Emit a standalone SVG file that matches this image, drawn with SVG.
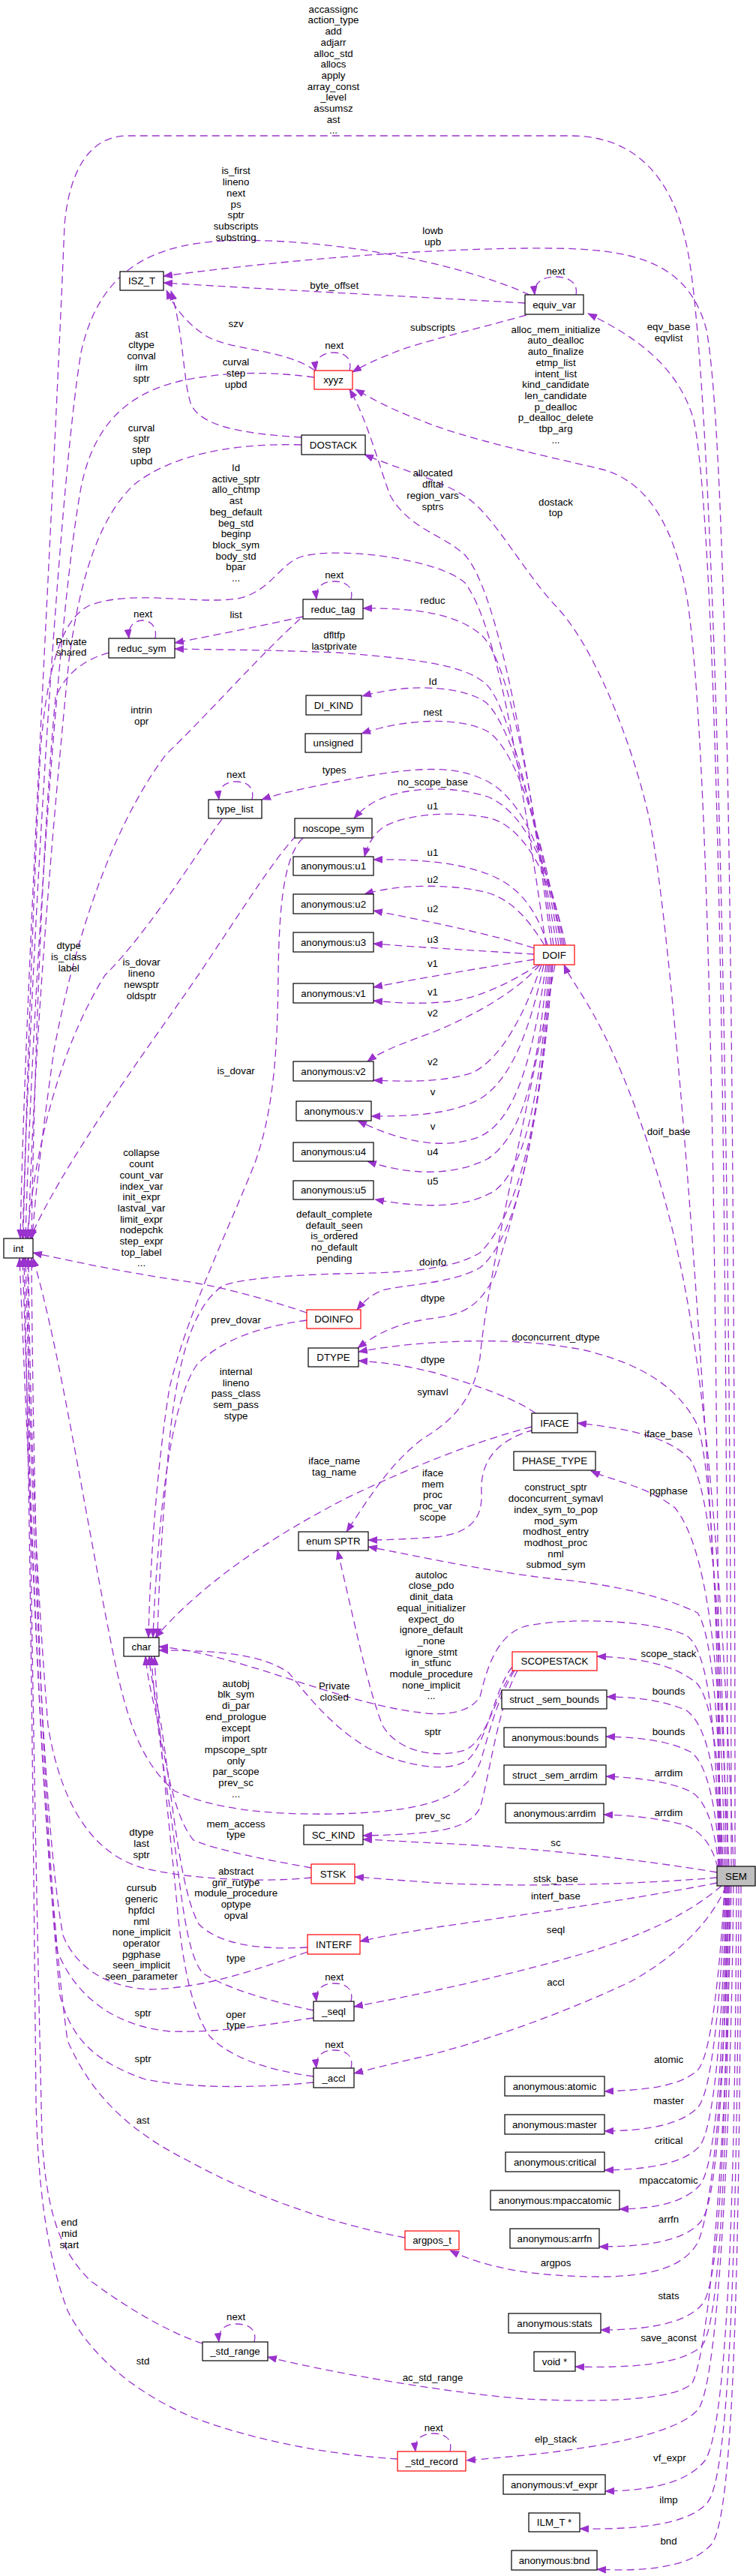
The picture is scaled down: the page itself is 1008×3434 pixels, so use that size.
<svg xmlns="http://www.w3.org/2000/svg" width="1008" height="3434" viewBox="0 0 1008 3434">
<style>
text{font-family:"Liberation Sans",Arial,sans-serif;font-size:13.3px;fill:#000;text-anchor:middle}
.n rect{fill:#fff;stroke:#000;stroke-width:1.2}
.r rect{stroke:#ff0000}
.g rect{fill:#bfbfbf}
.e path{fill:none;stroke:#9a32cd;stroke-width:1.3;stroke-dasharray:10,6;marker-end:url(#a)}
</style>
<defs>
<marker id="a" markerUnits="userSpaceOnUse" markerWidth="13" markerHeight="10" refX="12" refY="5" orient="auto" viewBox="0 0 13 10"><path d="M0,0 L13,5 L0,10 z" fill="#9a32cd" stroke="none"/></marker>
</defs>
<rect width="1008" height="3434" fill="#fff"/>
<g id="edges" class="e">
<path d="M 975,2488 C 975,1400 950,520 918,340 C 900,240 850,181 760,181 L 170,181 C 118,181 92,230 86,300 C 70,700 34,1300 27,1651"/>
<path d="M 980,2488 C 980,1500 972,600 942,440 C 915,335 820,330 700,331 C 520,333 340,352 218,368"/>
<path d="M 706,393 C 600,345 420,316 300,321 C 180,326 128,380 108,470 C 78,650 40,1300 30,1651"/>
<path d="M 700,404 C 580,397 380,387 218,377"/>
<path d="M 768,393 C 771,377 758,369 741,369 C 723,369 711,377 713,393"/>
<path d="M 970,2488 C 970,1500 955,700 925,560 C 905,490 850,450 784,418"/>
<path d="M 702,420 C 630,440 560,456 525,470 C 500,480 485,487 470,496"/>
<path d="M 420,494 C 380,465 310,468 275,448 C 250,432 232,410 222,387"/>
<path d="M 466,494 C 470,478 460,470 445,470 C 430,470 419,478 421,494"/>
<path d="M 419,503 C 360,495 300,495 240,508 C 170,525 125,565 108,650 C 80,800 44,1300 34,1651"/>
<path d="M 402,583 C 320,578 270,568 255,540 C 244,510 246,450 228,388"/>
<path d="M 402,593 C 300,590 225,610 180,645 C 130,690 105,780 92,880 C 70,1100 45,1400 38,1651"/>
<path d="M 735,1260 C 705,1020 665,790 620,740 C 590,712 545,705 520,660 C 505,620 490,560 466,519"/>
<path d="M 972,2488 C 935,1700 890,1200 865,1088 C 840,980 790,860 743,810 C 700,765 660,690 625,665 C 590,640 530,625 486,606"/>
<path d="M 960,2488 C 955,1600 945,1000 917,803 C 900,700 862,640 800,625 C 720,606 620,585 560,560 C 520,545 497,532 474,519"/>
<path d="M 728,1260 C 690,1000 660,830 620,777 C 585,745 450,728 402,742 C 372,752 360,790 316,798 C 260,806 180,786 122,806 C 80,822 62,900 54,1000 C 44,1200 34,1500 31,1651"/>
<path d="M 468,799 C 472,783 462,775 445,775 C 430,775 420,783 422,799"/>
<path d="M 738,1260 C 702,1000 672,870 640,845 C 610,820 560,810 484,811"/>
<path d="M 404,822 C 350,834 290,846 233,857"/>
<path d="M 207,851 C 210,835 200,827 190,827 C 179,827 170,835 172,851"/>
<path d="M 742,1260 C 708,1050 672,930 646,910 C 620,890 580,880 450,870 C 350,866 280,866 233,865"/>
<path d="M 145,870 C 110,880 86,900 74,930 C 58,1100 46,1400 42,1651"/>
<path d="M 400,825 C 340,880 270,960 222,1005 C 150,1100 100,1250 72,1400 C 58,1500 48,1580 43,1651"/>
<path d="M 745,1260 C 720,1100 680,960 646,935 C 620,918 555,908 483,928"/>
<path d="M 748,1260 C 725,1120 690,1000 650,975 C 612,955 540,958 482,978"/>
<path d="M 750,1260 C 730,1150 700,1060 640,1037 C 600,1020 550,1022 450,1042 C 400,1052 372,1058 349,1066"/>
<path d="M 336,1066 C 340,1050 330,1042 315,1042 C 300,1042 290,1050 292,1066"/>
<path d="M 752,1260 C 735,1160 700,1082 650,1062 C 600,1046 540,1050 505,1066 C 490,1073 480,1082 472,1091"/>
<path d="M 754,1260 C 738,1180 702,1100 650,1090 C 600,1080 540,1086 512,1102 C 498,1112 490,1126 486,1142"/>
<path d="M 730,1260 C 715,1210 690,1180 650,1165 C 610,1150 560,1145 498,1146"/>
<path d="M 726,1260 C 702,1222 682,1200 650,1190 C 612,1180 540,1176 486,1192"/>
<path d="M 712,1264 C 660,1246 560,1226 498,1214"/>
<path d="M 712,1272 C 650,1268 560,1263 498,1258"/>
<path d="M 712,1279 C 650,1289 560,1304 498,1316"/>
<path d="M 718,1286 C 680,1310 640,1330 600,1335 C 560,1339 530,1337 498,1334"/>
<path d="M 720,1286 C 690,1320 640,1350 580,1375 C 540,1390 510,1400 490,1415"/>
<path d="M 722,1286 C 700,1350 670,1410 630,1430 C 590,1443 540,1442 498,1440"/>
<path d="M 725,1286 C 705,1380 680,1440 640,1465 C 600,1486 550,1488 495,1488"/>
<path d="M 728,1286 C 712,1400 690,1492 640,1515 C 590,1535 530,1520 477,1494"/>
<path d="M 730,1286 C 718,1420 700,1512 650,1545 C 600,1570 540,1565 490,1548"/>
<path d="M 732,1286 C 722,1440 705,1552 660,1587 C 620,1612 560,1610 500,1599"/>
<path d="M 734,1286 C 720,1500 690,1650 640,1690 C 600,1712 540,1712 510,1720 C 495,1726 485,1735 476,1746"/>
<path d="M 736,1286 C 722,1500 690,1600 660,1700 C 640,1740 620,1752 580,1757 C 540,1762 510,1772 477,1797"/>
<path d="M 714,1884 C 690,1866 640,1848 580,1830 C 540,1820 510,1816 478,1814"/>
<path d="M 958,2488 C 960,2200 950,1960 930,1900 C 900,1840 840,1815 780,1800 C 700,1784 620,1786 550,1792 C 520,1795 500,1798 478,1802"/>
<path d="M 740,1286 C 700,1500 650,1700 640,1810 C 632,1860 610,1890 565,1917 C 520,1950 490,2000 462,2042"/>
<path d="M 712,1906 C 660,1920 640,1950 642,1990 C 644,2030 620,2045 580,2049 C 540,2052 510,2053 491,2053"/>
<path d="M 962,2488 C 960,2300 950,2180 930,2150 C 880,2125 800,2110 740,2105 C 650,2095 560,2075 491,2062"/>
<path d="M 709,1902 C 640,1920 560,1950 460,1998 C 360,2050 270,2110 207,2183"/>
<path d="M 409,1760 C 350,1768 295,1785 262,1820 C 235,1860 222,1950 214,2030 C 208,2100 205,2150 204,2183"/>
<path d="M 409,1750 C 350,1730 290,1714 240,1707 C 160,1695 90,1680 44,1670"/>
<path d="M 737,1286 C 720,1500 690,1620 640,1670 C 600,1695 520,1697 452,1698 C 380,1700 320,1705 297,1714 C 260,1740 240,1800 228,1900 C 218,2000 212,2100 210,2183"/>
<path d="M 395,1114 C 360,1150 300,1250 240,1335 C 180,1420 80,1560 40,1651"/>
<path d="M 296,1092 C 260,1140 200,1240 140,1300 C 90,1380 50,1500 36,1651"/>
<path d="M 404,1117 C 380,1140 372,1200 371,1300 C 370,1400 365,1480 340,1550 C 300,1650 250,1750 226,1850 C 210,1950 200,2080 198,2183"/>
<path d="M 966,2488 C 962,2200 940,2060 900,2010 C 860,1980 820,1975 788,1961"/>
<path d="M 968,2488 C 966,2200 950,1990 920,1945 C 890,1915 840,1905 770,1897"/>
<path d="M 978,2488 C 960,2000 930,1800 910,1700 C 880,1550 830,1420 790,1350 C 770,1315 758,1300 752,1286"/>
<path d="M 959,2488 C 955,2300 945,2200 915,2180 C 870,2160 760,2155 700,2168 C 660,2180 648,2230 640,2262 C 625,2285 590,2287 560,2283 C 450,2270 320,2205 212,2195"/>
<path d="M 683,2222 C 660,2250 650,2320 625,2345 C 600,2365 540,2355 490,2330 C 440,2300 410,2260 385,2230 C 350,2205 290,2200 212,2200"/>
<path d="M 685,2226 C 660,2260 650,2320 620,2333 C 580,2345 530,2335 510,2300 C 490,2250 470,2150 450,2067"/>
<path d="M 690,2227 C 665,2270 650,2380 640,2410 C 625,2440 580,2445 484,2447"/>
<path d="M 686,2227 C 660,2270 650,2320 640,2350 C 620,2400 560,2415 450,2418 C 350,2420 280,2410 232,2387 C 190,2350 170,2300 150,2200 C 110,2000 80,1800 44,1677"/>
<path d="M 964,2488 C 960,2350 950,2270 930,2245 C 900,2218 850,2210 796,2208"/>
<path d="M 962,2488 C 958,2380 945,2300 915,2280 C 880,2265 840,2262 809,2262"/>
<path d="M 960,2488 C 956,2420 945,2350 920,2335 C 890,2320 850,2316 808,2315"/>
<path d="M 958,2488 C 955,2450 945,2400 920,2388 C 890,2374 850,2370 808,2368"/>
<path d="M 957,2490 C 950,2460 935,2440 910,2432 C 880,2424 840,2420 805,2419"/>
<path d="M 956,2496 C 850,2478 700,2462 580,2457 C 540,2455 510,2453 484,2452"/>
<path d="M 956,2503 C 850,2512 700,2516 580,2510 C 540,2507 500,2504 473,2502"/>
<path d="M 956,2510 C 840,2533 700,2552 590,2568 C 540,2576 505,2582 480,2588"/>
<path d="M 962,2514 C 920,2550 860,2580 775,2605 C 690,2630 580,2655 472,2675"/>
<path d="M 968,2514 C 950,2560 900,2610 840,2642 C 760,2680 640,2725 549,2745 C 520,2752 495,2758 472,2764"/>
<path d="M 415,2490 C 360,2480 290,2467 258,2453 C 230,2420 220,2340 207,2280 C 200,2250 196,2230 194,2208"/>
<path d="M 415,2503 C 350,2510 250,2505 190,2490 C 120,2470 80,2400 64,2300 C 48,2100 40,1900 38,1677"/>
<path d="M 410,2596 C 340,2600 290,2590 265,2565 C 240,2520 230,2400 215,2300 C 205,2250 200,2230 199,2208"/>
<path d="M 410,2602 C 330,2630 270,2650 200,2652 C 140,2650 100,2620 84,2580 C 60,2450 45,2100 34,1677"/>
<path d="M 468,2668 C 472,2652 462,2644 445,2644 C 430,2644 420,2652 422,2668"/>
<path d="M 418,2680 C 360,2668 300,2650 270,2630 C 245,2600 240,2500 225,2400 C 212,2320 204,2250 202,2208"/>
<path d="M 418,2690 C 350,2700 290,2710 226,2708 C 150,2700 100,2660 76,2600 C 55,2400 44,2100 30,1677"/>
<path d="M 468,2757 C 472,2741 462,2733 445,2733 C 430,2733 420,2741 422,2757"/>
<path d="M 418,2768 C 360,2760 310,2745 280,2715 C 255,2680 245,2620 238,2560 C 225,2420 210,2300 206,2208"/>
<path d="M 418,2776 C 350,2783 260,2785 194,2772 C 130,2750 95,2720 80,2660 C 56,2400 44,2100 26,1677"/>
<path d="M 540,2983 C 450,2966 340,2930 250,2880 C 170,2840 120,2790 90,2720 C 60,2500 45,2100 42,1677"/>
<path d="M 270,3124 C 220,3108 160,3070 120,3040 C 80,3000 62,2950 56,2850 C 48,2500 40,2100 37,1677"/>
<path d="M 339,3122 C 343,3106 333,3098 315,3098 C 300,3098 290,3106 292,3122"/>
<path d="M 530,3278 C 450,3273 350,3257 258,3223 C 180,3190 120,3140 90,3080 C 60,3000 50,2900 48,2800 C 44,2400 40,2000 32,1677"/>
<path d="M 600,3268 C 604,3252 594,3244 578,3244 C 562,3244 552,3252 554,3268"/>
<path d="M 975,2514 C 970,2800 950,3120 923,3177 C 900,3200 800,3203 700,3198 C 600,3190 450,3165 357,3142"/>
<path d="M 978,2514 C 975,2800 960,3180 930,3213 C 900,3245 800,3262 710,3272 C 670,3276 645,3278 622,3280"/>
<path d="M 972,2514 C 968,2750 950,2950 930,2990 C 910,3025 860,3035 800,3035 C 720,3035 650,3025 600,3000"/>
<path d="M 966,2514 C 962,2600 950,2740 930,2760 C 905,2782 860,2786 806,2788"/>
<path d="M 967,2514 C 962,2650 950,2790 930,2810 C 905,2834 860,2840 806,2841"/>
<path d="M 968,2514 C 964,2700 952,2840 932,2862 C 908,2886 860,2892 806,2893"/>
<path d="M 969,2514 C 965,2750 953,2890 933,2913 C 910,2938 870,2944 826,2945"/>
<path d="M 970,2514 C 966,2800 954,2940 934,2962 C 912,2988 860,2995 799,2995"/>
<path d="M 971,2514 C 968,2900 956,3050 936,3072 C 914,3098 860,3106 801,3106"/>
<path d="M 973,2514 C 970,2900 958,3100 936,3127 C 910,3152 840,3157 767,3155"/>
<path d="M 982,2514 C 980,3000 966,3240 940,3280 C 915,3312 860,3320 807,3321"/>
<path d="M 985,2514 C 983,3050 970,3300 944,3335 C 918,3368 840,3372 773,3371"/>
<path d="M 988,2514 C 986,3100 975,3350 950,3390 C 922,3425 850,3428 796,3425"/>
</g>
<g id="edge-labels">
<text x="444.5" y="16.7"><tspan x="444.5">accassignc</tspan><tspan x="444.5" dy="14.7">action_type</tspan><tspan x="444.5" dy="14.7">add</tspan><tspan x="444.5" dy="14.7">adjarr</tspan><tspan x="444.5" dy="14.7">alloc_std</tspan><tspan x="444.5" dy="14.7">allocs</tspan><tspan x="444.5" dy="14.7">apply</tspan><tspan x="444.5" dy="14.7">array_const</tspan><tspan x="444.5" dy="14.7">_level</tspan><tspan x="444.5" dy="14.7">assumsz</tspan><tspan x="444.5" dy="14.7">ast</tspan><tspan x="444.5" dy="14.7">...</tspan></text>
<text x="314.6" y="232.4"><tspan x="314.6">is_first</tspan><tspan x="314.6" dy="14.7">lineno</tspan><tspan x="314.6" dy="14.7">next</tspan><tspan x="314.6" dy="14.7">ps</tspan><tspan x="314.6" dy="14.7">sptr</tspan><tspan x="314.6" dy="14.7">subscripts</tspan><tspan x="314.6" dy="14.7">substring</tspan></text>
<text x="577" y="312.4"><tspan x="577">lowb</tspan><tspan x="577" dy="14.7">upb</tspan></text>
<text x="741" y="365.7">next</text>
<text x="445.7" y="384.7">byte_offset</text>
<text x="314.6" y="436.4">szv</text>
<text x="577" y="441.4">subscripts</text>
<text x="741" y="443.7"><tspan x="741">alloc_mem_initialize</tspan><tspan x="741" dy="14.7">auto_dealloc</tspan><tspan x="741" dy="14.7">auto_finalize</tspan><tspan x="741" dy="14.7">etmp_list</tspan><tspan x="741" dy="14.7">intent_list</tspan><tspan x="741" dy="14.7">kind_candidate</tspan><tspan x="741" dy="14.7">len_candidate</tspan><tspan x="741" dy="14.7">p_dealloc</tspan><tspan x="741" dy="14.7">p_dealloc_delete</tspan><tspan x="741" dy="14.7">tbp_arg</tspan><tspan x="741" dy="14.7">...</tspan></text>
<text x="891.5" y="440.4"><tspan x="891.5">eqv_base</tspan><tspan x="891.5" dy="14.7">eqvlist</tspan></text>
<text x="188.6" y="449.7"><tspan x="188.6">ast</tspan><tspan x="188.6" dy="14.7">cltype</tspan><tspan x="188.6" dy="14.7">conval</tspan><tspan x="188.6" dy="14.7">ilm</tspan><tspan x="188.6" dy="14.7">sptr</tspan></text>
<text x="445.7" y="465.4">next</text>
<text x="314.6" y="487.4"><tspan x="314.6">curval</tspan><tspan x="314.6" dy="14.7">step</tspan><tspan x="314.6" dy="14.7">upbd</tspan></text>
<text x="188.6" y="574.7"><tspan x="188.6">curval</tspan><tspan x="188.6" dy="14.7">sptr</tspan><tspan x="188.6" dy="14.7">step</tspan><tspan x="188.6" dy="14.7">upbd</tspan></text>
<text x="314.6" y="628"><tspan x="314.6">Id</tspan><tspan x="314.6" dy="14.7">active_sptr</tspan><tspan x="314.6" dy="14.7">allo_chtmp</tspan><tspan x="314.6" dy="14.7">ast</tspan><tspan x="314.6" dy="14.7">beg_default</tspan><tspan x="314.6" dy="14.7">beg_std</tspan><tspan x="314.6" dy="14.7">beginp</tspan><tspan x="314.6" dy="14.7">block_sym</tspan><tspan x="314.6" dy="14.7">body_std</tspan><tspan x="314.6" dy="14.7">bpar</tspan><tspan x="314.6" dy="14.7">...</tspan></text>
<text x="577" y="635.4"><tspan x="577">allocated</tspan><tspan x="577" dy="14.7">dfltal</tspan><tspan x="577" dy="14.7">region_vars</tspan><tspan x="577" dy="14.7">sptrs</tspan></text>
<text x="741" y="673.7"><tspan x="741">dostack</tspan><tspan x="741" dy="14.7">top</tspan></text>
<text x="445.7" y="771.4">next</text>
<text x="577" y="805.4">reduc</text>
<text x="190.6" y="823.4">next</text>
<text x="314.6" y="824">list</text>
<text x="445.7" y="851.4"><tspan x="445.7">dfltfp</tspan><tspan x="445.7" dy="14.7">lastprivate</tspan></text>
<text x="95" y="859.7"><tspan x="95">Private</tspan><tspan x="95" dy="14.7">shared</tspan></text>
<text x="577" y="913">Id</text>
<text x="577" y="953.7">nest</text>
<text x="188.6" y="951.4"><tspan x="188.6">intrin</tspan><tspan x="188.6" dy="14.7">opr</tspan></text>
<text x="314.6" y="1037.4">next</text>
<text x="445.7" y="1031.4">types</text>
<text x="577" y="1047.4">no_scope_base</text>
<text x="577" y="1079">u1</text>
<text x="577" y="1141.4">u1</text>
<text x="577" y="1177">u2</text>
<text x="577" y="1215.7">u2</text>
<text x="577" y="1257">u3</text>
<text x="577" y="1289">v1</text>
<text x="577" y="1327">v1</text>
<text x="577" y="1354.7">v2</text>
<text x="577" y="1420">v2</text>
<text x="91.7" y="1265.4"><tspan x="91.7">dtype</tspan><tspan x="91.7" dy="14.7">is_class</tspan><tspan x="91.7" dy="14.7">label</tspan></text>
<text x="188.6" y="1287.4"><tspan x="188.6">is_dovar</tspan><tspan x="188.6" dy="14.7">lineno</tspan><tspan x="188.6" dy="14.7">newsptr</tspan><tspan x="188.6" dy="14.7">oldsptr</tspan></text>
<text x="314.6" y="1432">is_dovar</text>
<text x="577" y="1459.7">v</text>
<text x="577" y="1505.7">v</text>
<text x="577" y="1539.7">u4</text>
<text x="577" y="1579">u5</text>
<text x="891.5" y="1513">doif_base</text>
<text x="188.6" y="1541.4"><tspan x="188.6">collapse</tspan><tspan x="188.6" dy="14.7">count</tspan><tspan x="188.6" dy="14.7">count_var</tspan><tspan x="188.6" dy="14.7">index_var</tspan><tspan x="188.6" dy="14.7">init_expr</tspan><tspan x="188.6" dy="14.7">lastval_var</tspan><tspan x="188.6" dy="14.7">limit_expr</tspan><tspan x="188.6" dy="14.7">nodepchk</tspan><tspan x="188.6" dy="14.7">step_expr</tspan><tspan x="188.6" dy="14.7">top_label</tspan><tspan x="188.6" dy="14.7">...</tspan></text>
<text x="445.7" y="1623"><tspan x="445.7">default_complete</tspan><tspan x="445.7" dy="14.7">default_seen</tspan><tspan x="445.7" dy="14.7">is_ordered</tspan><tspan x="445.7" dy="14.7">no_default</tspan><tspan x="445.7" dy="14.7">pending</tspan></text>
<text x="577" y="1687">doinfo</text>
<text x="577" y="1735.4">dtype</text>
<text x="314.6" y="1763.7">prev_dovar</text>
<text x="741" y="1787.4">doconcurrent_dtype</text>
<text x="577" y="1817.4">dtype</text>
<text x="314.6" y="1833"><tspan x="314.6">internal</tspan><tspan x="314.6" dy="14.7">lineno</tspan><tspan x="314.6" dy="14.7">pass_class</tspan><tspan x="314.6" dy="14.7">sem_pass</tspan><tspan x="314.6" dy="14.7">stype</tspan></text>
<text x="577" y="1859.7">symavl</text>
<text x="891.5" y="1916.4">iface_base</text>
<text x="445.7" y="1952.4"><tspan x="445.7">iface_name</tspan><tspan x="445.7" dy="14.7">tag_name</tspan></text>
<text x="577" y="1968"><tspan x="577">iface</tspan><tspan x="577" dy="14.7">mem</tspan><tspan x="577" dy="14.7">proc</tspan><tspan x="577" dy="14.7">proc_var</tspan><tspan x="577" dy="14.7">scope</tspan></text>
<text x="891.5" y="1992.4">pgphase</text>
<text x="741" y="1987.4"><tspan x="741">construct_sptr</tspan><tspan x="741" dy="14.7">doconcurrent_symavl</tspan><tspan x="741" dy="14.7">index_sym_to_pop</tspan><tspan x="741" dy="14.7">mod_sym</tspan><tspan x="741" dy="14.7">modhost_entry</tspan><tspan x="741" dy="14.7">modhost_proc</tspan><tspan x="741" dy="14.7">nml</tspan><tspan x="741" dy="14.7">submod_sym</tspan></text>
<text x="575" y="2103.7"><tspan x="575">autoloc</tspan><tspan x="575" dy="14.7">close_pdo</tspan><tspan x="575" dy="14.7">dinit_data</tspan><tspan x="575" dy="14.7">equal_initializer</tspan><tspan x="575" dy="14.7">expect_do</tspan><tspan x="575" dy="14.7">ignore_default</tspan><tspan x="575" dy="14.7">_none</tspan><tspan x="575" dy="14.7">ignore_stmt</tspan><tspan x="575" dy="14.7">in_stfunc</tspan><tspan x="575" dy="14.7">module_procedure</tspan><tspan x="575" dy="14.7">none_implicit</tspan><tspan x="575" dy="14.7">...</tspan></text>
<text x="891.5" y="2208.7">scope_stack</text>
<text x="891.5" y="2259">bounds</text>
<text x="445.7" y="2252.4"><tspan x="445.7">Private</tspan><tspan x="445.7" dy="14.7">closed</tspan></text>
<text x="314.6" y="2248.7"><tspan x="314.6">autobj</tspan><tspan x="314.6" dy="14.7">blk_sym</tspan><tspan x="314.6" dy="14.7">di_par</tspan><tspan x="314.6" dy="14.7">end_prologue</tspan><tspan x="314.6" dy="14.7">except</tspan><tspan x="314.6" dy="14.7">import</tspan><tspan x="314.6" dy="14.7">mpscope_sptr</tspan><tspan x="314.6" dy="14.7">only</tspan><tspan x="314.6" dy="14.7">par_scope</tspan><tspan x="314.6" dy="14.7">prev_sc</tspan><tspan x="314.6" dy="14.7">...</tspan></text>
<text x="577" y="2313">sptr</text>
<text x="891.5" y="2313">bounds</text>
<text x="891.5" y="2368">arrdim</text>
<text x="891.5" y="2421.4">arrdim</text>
<text x="577" y="2424.7">prev_sc</text>
<text x="314.6" y="2435.7"><tspan x="314.6">mem_access</tspan><tspan x="314.6" dy="14.7">type</tspan></text>
<text x="741" y="2461.4">sc</text>
<text x="188.6" y="2447.4"><tspan x="188.6">dtype</tspan><tspan x="188.6" dy="14.7">last</tspan><tspan x="188.6" dy="14.7">sptr</tspan></text>
<text x="314.6" y="2499"><tspan x="314.6">abstract</tspan><tspan x="314.6" dy="14.7">gnr_rutype</tspan><tspan x="314.6" dy="14.7">module_procedure</tspan><tspan x="314.6" dy="14.7">optype</tspan><tspan x="314.6" dy="14.7">opval</tspan></text>
<text x="741" y="2509">stsk_base</text>
<text x="741" y="2532">interf_base</text>
<text x="188.6" y="2521.4"><tspan x="188.6">cursub</tspan><tspan x="188.6" dy="14.7">generic</tspan><tspan x="188.6" dy="14.7">hpfdcl</tspan><tspan x="188.6" dy="14.7">nml</tspan><tspan x="188.6" dy="14.7">none_implicit</tspan><tspan x="188.6" dy="14.7">operator</tspan><tspan x="188.6" dy="14.7">pgphase</tspan><tspan x="188.6" dy="14.7">seen_implicit</tspan><tspan x="188.6" dy="14.7">seen_parameter</tspan></text>
<text x="741" y="2577">seql</text>
<text x="314.6" y="2615.4">type</text>
<text x="445.7" y="2640.4">next</text>
<text x="741" y="2647.4">accl</text>
<text x="190.6" y="2688">sptr</text>
<text x="314.6" y="2689.7"><tspan x="314.6">oper</tspan><tspan x="314.6" dy="14.7">type</tspan></text>
<text x="445.7" y="2729.7">next</text>
<text x="190.6" y="2748.7">sptr</text>
<text x="891.5" y="2749.7">atomic</text>
<text x="891.5" y="2804.7">master</text>
<text x="190.6" y="2831.4">ast</text>
<text x="891.5" y="2858">critical</text>
<text x="891.5" y="2911.4">mpaccatomic</text>
<text x="891.5" y="2963">arrfn</text>
<text x="92.4" y="2967.4"><tspan x="92.4">end</tspan><tspan x="92.4" dy="14.7">mid</tspan><tspan x="92.4" dy="14.7">start</tspan></text>
<text x="741" y="3020.7">argpos</text>
<text x="891.5" y="3065.4">stats</text>
<text x="891.5" y="3121.4">save_aconst</text>
<text x="314.6" y="3093.4">next</text>
<text x="190.6" y="3152">std</text>
<text x="577" y="3173.7">ac_std_range</text>
<text x="578.2" y="3240.7">next</text>
<text x="741" y="3256.4">elp_stack</text>
<text x="892.8" y="3280.7">vf_expr</text>
<text x="891.5" y="3337.4">ilmp</text>
<text x="891.5" y="3392">bnd</text>
</g>
<g id="n_ISZ_T" class="n"><rect x="160" y="362" width="58" height="25"/><text x="189" y="379.2">ISZ_T</text></g>
<g id="n_equiv_var" class="n"><rect x="700" y="393" width="78" height="26"/><text x="739" y="410.7">equiv_var</text></g>
<g id="n_xyyz" class="n r"><rect x="419" y="494" width="51" height="25"/><text x="444.5" y="511.2">xyyz</text></g>
<g id="n_DOSTACK" class="n"><rect x="402" y="580" width="85" height="26"/><text x="444.5" y="597.7">DOSTACK</text></g>
<g id="n_reduc_tag" class="n"><rect x="404" y="799" width="80" height="26"/><text x="444" y="816.7">reduc_tag</text></g>
<g id="n_reduc_sym" class="n"><rect x="145" y="851" width="88" height="26"/><text x="189" y="868.7">reduc_sym</text></g>
<g id="n_DI_KIND" class="n"><rect x="408" y="927" width="74" height="26"/><text x="445" y="944.7">DI_KIND</text></g>
<g id="n_unsigned" class="n"><rect x="407" y="978" width="75" height="25"/><text x="444.5" y="995.2">unsigned</text></g>
<g id="n_type_list" class="n"><rect x="278" y="1066" width="71" height="25"/><text x="313.5" y="1083.2">type_list</text></g>
<g id="n_noscope_sym" class="n"><rect x="393" y="1091" width="103" height="26"/><text x="444.5" y="1108.7">noscope_sym</text></g>
<g id="n_anon_u1" class="n"><rect x="391" y="1142" width="107" height="25"/><text x="444.5" y="1159.2">anonymous:u1</text></g>
<g id="n_anon_u2" class="n"><rect x="391" y="1192" width="107" height="26"/><text x="444.5" y="1209.7">anonymous:u2</text></g>
<g id="n_anon_u3" class="n"><rect x="391" y="1243" width="107" height="26"/><text x="444.5" y="1260.7">anonymous:u3</text></g>
<g id="n_DOIF" class="n r"><rect x="712" y="1260" width="54" height="26"/><text x="739" y="1277.7">DOIF</text></g>
<g id="n_anon_v1" class="n"><rect x="391" y="1311" width="107" height="26"/><text x="444.5" y="1328.7">anonymous:v1</text></g>
<g id="n_anon_v2" class="n"><rect x="391" y="1415" width="107" height="26"/><text x="444.5" y="1432.7">anonymous:v2</text></g>
<g id="n_anon_v" class="n"><rect x="395" y="1468" width="100" height="26"/><text x="445" y="1485.7">anonymous:v</text></g>
<g id="n_anon_u4" class="n"><rect x="391" y="1523" width="107" height="25"/><text x="444.5" y="1540.2">anonymous:u4</text></g>
<g id="n_anon_u5" class="n"><rect x="391" y="1574" width="107" height="25"/><text x="444.5" y="1591.2">anonymous:u5</text></g>
<g id="n_int" class="n"><rect x="5" y="1651" width="39" height="26"/><text x="24.5" y="1668.7">int</text></g>
<g id="n_DOINFO" class="n r"><rect x="409" y="1746" width="72" height="25"/><text x="445" y="1763.2">DOINFO</text></g>
<g id="n_DTYPE" class="n"><rect x="411" y="1797" width="67" height="25"/><text x="444.5" y="1814.2">DTYPE</text></g>
<g id="n_IFACE" class="n"><rect x="709" y="1884" width="61" height="26"/><text x="739.5" y="1901.7">IFACE</text></g>
<g id="n_PHASE_TYPE" class="n"><rect x="685" y="1935" width="109" height="25"/><text x="739.5" y="1952.2">PHASE_TYPE</text></g>
<g id="n_enum_SPTR" class="n"><rect x="398" y="2042" width="93" height="25"/><text x="444.5" y="2059.2">enum SPTR</text></g>
<g id="n_char" class="n"><rect x="165" y="2183" width="47" height="25"/><text x="188.5" y="2200.2">char</text></g>
<g id="n_SCOPESTACK" class="n r"><rect x="683" y="2202" width="113" height="25"/><text x="739.5" y="2219.2">SCOPESTACK</text></g>
<g id="n_struct_sem_bounds" class="n"><rect x="669" y="2253" width="140" height="25"/><text x="739" y="2270.2">struct _sem_bounds</text></g>
<g id="n_anon_bounds" class="n"><rect x="672" y="2303" width="136" height="26"/><text x="740" y="2320.7">anonymous:bounds</text></g>
<g id="n_struct_sem_arrdim" class="n"><rect x="672" y="2353" width="136" height="26"/><text x="740" y="2370.7">struct _sem_arrdim</text></g>
<g id="n_anon_arrdim" class="n"><rect x="674" y="2404" width="131" height="26"/><text x="739.5" y="2421.7">anonymous:arrdim</text></g>
<g id="n_SC_KIND" class="n"><rect x="405" y="2433" width="79" height="26"/><text x="444.5" y="2450.7">SC_KIND</text></g>
<g id="n_STSK" class="n r"><rect x="415" y="2485" width="58" height="26"/><text x="444" y="2502.7">STSK</text></g>
<g id="n_SEM" class="n g"><rect x="956" y="2488" width="51" height="26"/><text x="981.5" y="2505.7">SEM</text></g>
<g id="n_INTERF" class="n r"><rect x="410" y="2579" width="70" height="26"/><text x="445" y="2596.7">INTERF</text></g>
<g id="n_seql" class="n"><rect x="418" y="2668" width="54" height="26"/><text x="445" y="2685.7">_seql</text></g>
<g id="n_accl" class="n"><rect x="418" y="2757" width="54" height="26"/><text x="445" y="2774.7">_accl</text></g>
<g id="n_anon_atomic" class="n"><rect x="673" y="2768" width="133" height="26"/><text x="739.5" y="2785.7">anonymous:atomic</text></g>
<g id="n_anon_master" class="n"><rect x="673" y="2819" width="133" height="26"/><text x="739.5" y="2836.7">anonymous:master</text></g>
<g id="n_anon_critical" class="n"><rect x="674" y="2869" width="132" height="26"/><text x="740" y="2886.7">anonymous:critical</text></g>
<g id="n_anon_mpaccatomic" class="n"><rect x="654" y="2920" width="172" height="26"/><text x="740" y="2937.7">anonymous:mpaccatomic</text></g>
<g id="n_anon_arrfn" class="n"><rect x="680" y="2971" width="119" height="26"/><text x="739.5" y="2988.7">anonymous:arrfn</text></g>
<g id="n_argpos_t" class="n r"><rect x="540" y="2974" width="72" height="25"/><text x="576" y="2991.2">argpos_t</text></g>
<g id="n_anon_stats" class="n"><rect x="678" y="3084" width="123" height="26"/><text x="739.5" y="3101.7">anonymous:stats</text></g>
<g id="n_std_range" class="n"><rect x="270" y="3122" width="87" height="25"/><text x="313.5" y="3139.2">_std_range</text></g>
<g id="n_void_ptr" class="n"><rect x="712" y="3135" width="55" height="26"/><text x="739.5" y="3152.7">void *</text></g>
<g id="n_std_record" class="n r"><rect x="530" y="3268" width="91" height="26"/><text x="575.5" y="3285.7">_std_record</text></g>
<g id="n_anon_vf_expr" class="n"><rect x="671" y="3299" width="136" height="26"/><text x="739" y="3316.7">anonymous:vf_expr</text></g>
<g id="n_ILM_T_ptr" class="n"><rect x="705" y="3350" width="68" height="25"/><text x="739" y="3367.2">ILM_T *</text></g>
<g id="n_anon_bnd" class="n"><rect x="682" y="3400" width="114" height="26"/><text x="739" y="3417.7">anonymous:bnd</text></g>
</svg>
